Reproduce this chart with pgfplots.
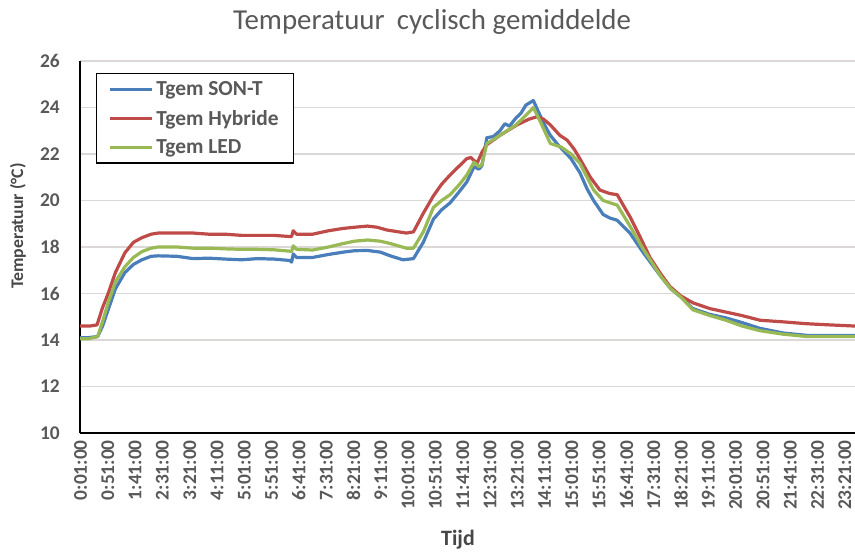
\documentclass[border=0pt]{standalone}
\usepackage{fontspec}
\setmainfont{Carlito}
\usepackage{pgfplots}
\pgfplotsset{compat=1.18}
\definecolor{sont}{HTML}{4A7EBB}
\definecolor{hyb}{HTML}{BE4B48}
\definecolor{led}{HTML}{98B954}
\definecolor{txt}{HTML}{595959}
\definecolor{gridc}{HTML}{DDD8D8}

\begin{document}
\begin{tikzpicture}
\useasboundingbox (-80bp,-122bp) rectangle (775bp,433bp);
\begin{axis}[scale only axis, width=775bp, height=372bp,
    xmin=0, xmax=23.66, ymin=10, ymax=26,
    axis x line=bottom, axis y line=left,
    axis line style={-, black, line width=2.2bp},
    ytick={10,12,...,26}, major tick length=0pt,
    ymajorgrids, grid style={gridc, line width=1.5bp},
    xtick={0.0167,0.85,1.6833,2.5167,3.35,4.1833,5.0167,5.85,6.6833,7.5167,8.35,9.1833,10.0167,10.85,11.6833,12.5167,13.35,14.1833,15.0167,15.85,16.6833,17.5167,18.35,19.1833,20.0167,20.85,21.6833,22.5167,23.35},
    xticklabels={0:01:00,0:51:00,1:41:00,2:31:00,3:21:00,4:11:00,5:01:00,5:51:00,6:41:00,7:31:00,8:21:00,9:11:00,10:01:00,10:51:00,11:41:00,12:31:00,13:21:00,14:11:00,15:01:00,15:51:00,16:41:00,17:31:00,18:21:00,19:11:00,20:01:00,20:51:00,21:41:00,22:31:00,23:21:00},
    xticklabel style={rotate=90, anchor=east, inner sep=0pt, font=\fontsize{19.5}{22}\selectfont\bfseries, text=txt},
    xticklabel shift=7bp,
    yticklabel style={inner sep=0pt, xshift=-20bp, font=\fontsize{19.5}{22}\selectfont\bfseries, text=txt},
    /pgf/number format/assume math mode=true,
    legend style={at={(rel axis cs:0.0206,0.968)}, anchor=north west, draw=black, line width=1.3bp, fill=white,
        font=\fontsize{21.5}{24}\selectfont\bfseries, text=txt, inner xsep=12bp, inner ysep=6bp, row sep=9bp,
        nodes={inner xsep=2.5bp}},
    legend cell align=left,
    legend image code/.code={\draw[#1, line width=3.2bp] (0bp,0bp) -- (42bp,0bp);},
    every axis plot/.append style={line width=3.2bp, line join=round, no markers}]

\addplot[sont] coordinates {
(0,14.1) (0.25,14.1) (0.54,14.15) (0.69,14.6) (0.86,15.3) (1.08,16.2) (1.37,16.9) (1.63,17.25)
(1.89,17.45) (2.17,17.6) (2.39,17.62) (2.96,17.6) (3.45,17.5) (3.94,17.52) (4.44,17.48) (4.93,17.45)
(5.42,17.5) (5.92,17.48) (6.41,17.42) (6.46,17.35) (6.51,17.7) (6.61,17.55) (7.10,17.55) (7.59,17.68)
(8.04,17.78) (8.38,17.84) (8.78,17.85) (9.17,17.78) (9.47,17.62) (9.86,17.45) (10.18,17.5) (10.48,18.2)
(10.79,19.2) (11.04,19.6) (11.30,19.9) (11.59,20.4) (11.81,20.8) (12.03,21.45) (12.18,21.35) (12.27,21.5)
(12.42,22.7) (12.62,22.75) (12.82,23.0) (12.97,23.3) (13.11,23.2) (13.31,23.55) (13.46,23.75) (13.61,24.1)
(13.84,24.3) (14.00,23.8) (14.20,23.2) (14.36,22.8) (14.59,22.4) (14.79,22.1) (14.99,21.8) (15.26,21.2)
(15.48,20.5) (15.68,20.0) (15.97,19.4) (16.17,19.25) (16.40,19.15) (16.79,18.6) (17.20,17.75) (17.75,16.7)
(18.04,16.2) (18.34,15.85) (18.71,15.35) (19.23,15.1) (19.72,14.95) (20.21,14.75) (20.76,14.5) (21.47,14.3)
(22.18,14.2) (22.88,14.2) (23.66,14.2)
};
\addlegendentry{Tgem SON-T}

\addplot[hyb] coordinates {
(0,14.6) (0.30,14.6) (0.52,14.65) (0.69,15.4) (0.86,16.0) (1.08,16.9) (1.37,17.75) (1.63,18.2)
(1.89,18.4) (2.17,18.55) (2.39,18.6) (2.96,18.6) (3.45,18.6) (3.94,18.55) (4.44,18.55) (4.93,18.5)
(5.42,18.5) (5.92,18.5) (6.41,18.45) (6.46,18.45) (6.51,18.7) (6.61,18.55) (7.10,18.55) (7.59,18.7)
(8.04,18.8) (8.38,18.85) (8.78,18.9) (9.07,18.85) (9.37,18.73) (9.96,18.6) (10.18,18.65) (10.48,19.45)
(10.79,20.2) (11.04,20.7) (11.30,21.1) (11.59,21.5) (11.81,21.8) (11.93,21.85) (12.12,21.6) (12.28,22.1)
(12.42,22.4) (12.82,22.8) (13.34,23.25) (13.71,23.5) (13.95,23.6) (14.15,23.5) (14.36,23.25) (14.65,22.8)
(14.87,22.6) (15.09,22.2) (15.26,21.8) (15.58,21.0) (15.87,20.45) (16.17,20.3) (16.40,20.25) (16.79,19.3)
(17.11,18.4) (17.40,17.55) (17.75,16.8) (18.01,16.3) (18.34,15.9) (18.71,15.6) (19.23,15.35) (19.72,15.2)
(20.21,15.05) (20.76,14.85) (21.47,14.78) (22.18,14.7) (22.88,14.65) (23.66,14.6)
};
\addlegendentry{Tgem Hybride}

\addplot[led] coordinates {
(0,14.05) (0.25,14.05) (0.54,14.15) (0.69,14.8) (0.86,15.6) (1.08,16.5) (1.37,17.15) (1.63,17.55)
(1.89,17.8) (2.17,17.95) (2.39,18.0) (2.96,18.0) (3.45,17.95) (3.94,17.95) (4.44,17.92) (4.93,17.9)
(5.42,17.9) (5.92,17.88) (6.41,17.82) (6.46,17.8) (6.51,18.05) (6.61,17.9) (7.10,17.87) (7.59,18.0)
(8.04,18.15) (8.38,18.25) (8.78,18.3) (9.17,18.25) (9.47,18.15) (9.96,17.95) (10.18,17.95) (10.48,18.65)
(10.79,19.7) (11.04,20.0) (11.30,20.25) (11.59,20.7) (11.81,21.1) (12.03,21.65) (12.18,21.45) (12.27,21.55)
(12.42,22.45) (12.82,22.8) (13.31,23.25) (13.71,23.8) (13.84,24.0) (14.05,23.4) (14.36,22.45) (14.69,22.3)
(14.99,22.0) (15.26,21.6) (15.48,21.0) (15.68,20.45) (15.97,20.0) (16.40,19.8) (16.79,18.9) (17.20,17.9)
(17.75,16.7) (18.04,16.2) (18.34,15.85) (18.71,15.3) (19.23,15.05) (19.72,14.85) (20.21,14.6) (20.76,14.4)
(21.47,14.25) (22.18,14.15) (22.88,14.15) (23.66,14.15)
};
\addlegendentry{Tgem LED}

\end{axis}
\node[font=\fontsize{29}{32}\selectfont, text=txt] at (352bp,411bp) {Temperatuur\hspace{0.2em} cyclisch gemiddelde};
\node[rotate=90, font=\fontsize{17.8}{20}\selectfont\bfseries, text=txt!80!black] at (-62bp,207bp) {Temperatuur (°C)};
\node[font=\fontsize{22}{24}\selectfont\bfseries, text=txt!80!black] at (378bp,-107bp) {Tijd};
\end{tikzpicture}
\end{document}
